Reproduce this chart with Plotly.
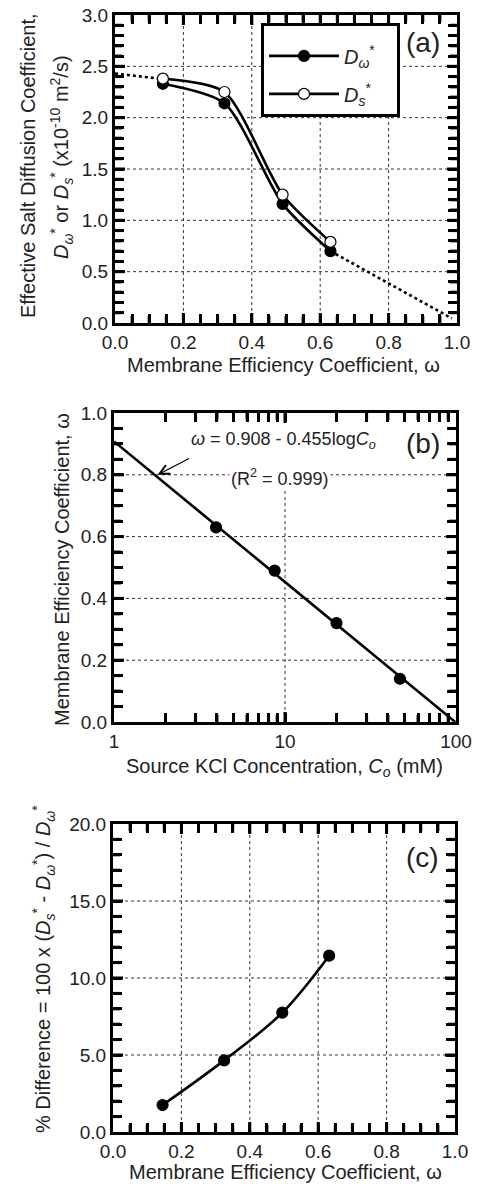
import plotly.graph_objects as go

W, H = 478, 1184
FONT = "Liberation Sans, Arial, Helvetica, sans-serif"

# ---------- data ----------
# panel (a)
omega_pts = [0.14, 0.32, 0.49, 0.63]
D_omega = [2.33, 2.14, 1.16, 0.70]
D_s = [2.38, 2.25, 1.25, 0.79]
extrap_left_x = [0.0, 0.13]
extrap_left_y = [2.43, 2.38]
extrap_right_x = [0.63, 0.985]
extrap_right_y = [0.70, 0.045]

# panel (b)
conc_pts = [3.95, 8.7, 20.0, 47.0]
omega_b = [0.63, 0.49, 0.32, 0.14]
fit_x = [1.0, 99.0]
fit_y = [0.908, 0.0]

# panel (c)
omega_c = [0.145, 0.325, 0.495, 0.632]
pct_diff = [1.75, 4.65, 7.75, 11.45]

# ticks / grid
omega_major = [0.0, 0.2, 0.4, 0.6, 0.8, 1.0]
Da_major = [0.0, 0.5, 1.0, 1.5, 2.0, 2.5, 3.0]
wb_major = [0.0, 0.2, 0.4, 0.6, 0.8, 1.0]
pc_major = [0.0, 5.0, 10.0, 15.0, 20.0]
conc_major = [1, 10, 100]
conc_minor = [2, 3, 4, 5, 6, 7, 8, 9, 20, 30, 40, 50, 60, 70, 80, 90]


def lin_ticks(major, n_sub, fmt="{:.1f}"):
    vals, text = [], []
    for i, v in enumerate(major):
        vals.append(v)
        text.append(fmt.format(v))
        if i < len(major) - 1:
            step = (major[i + 1] - v) / n_sub
            for k in range(1, n_sub):
                vals.append(v + k * step)
                text.append("")
    return vals, text


def px_x(p):
    return p / W


def px_y(p):
    return 1 - p / H


fig = go.Figure()

line_w = 2.6
mk = dict(size=11, color="black", line=dict(color="black", width=1.2))
mk_open = dict(size=11, color="white", line=dict(color="black", width=1.2))

# panel a
fig.add_trace(go.Scatter(x=extrap_left_x, y=extrap_left_y, mode="lines",
                         line=dict(color="black", width=2.6, dash="dot"),
                         showlegend=False, xaxis="x", yaxis="y"))
fig.add_trace(go.Scatter(x=extrap_right_x, y=extrap_right_y, mode="lines",
                         line=dict(color="black", width=2.6, dash="dot"),
                         showlegend=False, xaxis="x", yaxis="y"))
fig.add_trace(go.Scatter(x=omega_pts, y=D_omega, mode="lines+markers",
                         line=dict(color="black", width=line_w, shape="spline", smoothing=0.7),
                         marker=mk, name="<i>D</i><sub><i>ω</i></sub><sup>*</sup>&nbsp;&nbsp;&nbsp;",
                         legendgroup="g1", xaxis="x", yaxis="y"))
fig.add_trace(go.Scatter(x=omega_pts, y=D_s, mode="lines+markers",
                         line=dict(color="black", width=line_w, shape="spline", smoothing=0.7),
                         marker=mk_open, name="<i>D</i><sub><i>s</i></sub><sup>*</sup>",
                         legendgroup="g2", xaxis="x", yaxis="y"))

# panel b
fig.add_trace(go.Scatter(x=fit_x, y=fit_y, mode="lines",
                         line=dict(color="black", width=line_w),
                         showlegend=False, xaxis="x2", yaxis="y2"))
fig.add_trace(go.Scatter(x=conc_pts, y=omega_b, mode="markers",
                         marker=mk, showlegend=False, xaxis="x2", yaxis="y2"))

# panel c
fig.add_trace(go.Scatter(x=omega_c, y=pct_diff, mode="lines+markers",
                         line=dict(color="black", width=line_w, shape="spline", smoothing=1.0),
                         marker=mk, showlegend=False, xaxis="x3", yaxis="y3"))

common = dict(showline=True, linewidth=3, linecolor="black", mirror="ticks",
              ticks="inside", ticklen=9, tickwidth=3, tickcolor="black",
              showgrid=False, zeroline=False, automargin=False, tickmode="array",
              tickfont=dict(family=FONT, size=19, color="#222"))

xa_v, xa_t = lin_ticks(omega_major, 4)
ya_v, ya_t = lin_ticks(Da_major, 5)
yb_v, yb_t = lin_ticks(wb_major, 4)
yc_v, yc_t = lin_ticks(pc_major, 5)
xb_v = sorted(conc_major + conc_minor)
xb_t = [str(v) if v in conc_major else "" for v in xb_v]

fig.update_layout(
    xaxis=dict(domain=[px_x(115), px_x(457)], range=[0, 1], anchor="y",
               tickvals=xa_v, ticktext=xa_t, **common),
    yaxis=dict(domain=[px_y(323), px_y(15)], range=[0, 3], anchor="x",
               tickvals=ya_v, ticktext=ya_t, **common),
    xaxis2=dict(domain=[px_x(114), px_x(456)], type="log", range=[0, 2], anchor="y2",
                tickvals=xb_v, ticktext=xb_t, **common),
    yaxis2=dict(domain=[px_y(722), px_y(413)], range=[0, 1], anchor="x2",
                tickvals=yb_v, ticktext=yb_t, **common),
    xaxis3=dict(domain=[px_x(113), px_x(455)], range=[0, 1], anchor="y3",
                tickvals=xa_v, ticktext=xa_t, **common),
    yaxis3=dict(domain=[px_y(1132), px_y(824)], range=[0, 20], anchor="x3",
                tickvals=yc_v, ticktext=yc_t, **common),
    width=W, height=H,
    margin=dict(l=0, r=0, t=0, b=0),
    paper_bgcolor="white", plot_bgcolor="white",
    font=dict(family=FONT, size=19, color="#222"),
    legend=dict(x=px_x(261), y=px_y(23), xanchor="left", yanchor="top",
                bgcolor="white", bordercolor="black", borderwidth=3,
                font=dict(family=FONT, size=20, color="#222"),
                title=dict(text=" ", font=dict(size=8)),
                itemwidth=70, tracegroupgap=9, traceorder="grouped"),
)

# dotted grid lines at the major ticks
grid_line = dict(color="#333", width=1, dash="3px,3px")


def vgrid(xref, yref, vals):
    for v in vals[1:-1]:
        fig.add_shape(type="line", xref=xref, yref=yref + " domain", x0=v, x1=v, y0=0, y1=1,
                      line=grid_line, layer="below")


def hgrid(xref, yref, vals):
    for v in vals[1:-1]:
        fig.add_shape(type="line", xref=xref + " domain", yref=yref, x0=0, x1=1, y0=v, y1=v,
                      line=grid_line, layer="below")


vgrid("x", "y", omega_major)
hgrid("x", "y", Da_major)
vgrid("x2", "y2", conc_major)
hgrid("x2", "y2", wb_major)
vgrid("x3", "y3", omega_major)
hgrid("x3", "y3", pc_major)
# mask the C=10 grid line behind the fit label area (panel b)
fig.add_shape(type="rect", xref="x2", yref="y2", x0=8, x1=12.5, y0=0.755, y1=0.99,
              fillcolor="white", line=dict(width=0), layer="below")

# inside tick marks on all four sides (pixel-length), drawn from the tick arrays
tick_line = dict(color="black", width=3)
MAJ, MIN = 10, 7


def xticks(xref, yref, vals, majors):
    for v in vals[1:-1]:
        L = MAJ if v in majors else MIN
        for anchor, sgn in ((0, 1), (1, -1)):
            fig.add_shape(type="line", xref=xref, yref=yref + " domain", ysizemode="pixel",
                          yanchor=anchor, x0=v, x1=v, y0=0, y1=sgn * L,
                          line=tick_line, layer="above")


def yticks(xref, yref, vals, majors):
    for v in vals[1:-1]:
        L = MAJ if v in majors else MIN
        for anchor, sgn in ((0, 1), (1, -1)):
            fig.add_shape(type="line", xref=xref + " domain", yref=yref, xsizemode="pixel",
                          xanchor=anchor, x0=0, x1=sgn * L, y0=v, y1=v,
                          line=tick_line, layer="above")


def is_major(vals, majors):
    return [v for v in vals if any(abs(v - m) < 1e-9 for m in majors)]


xticks("x", "y", xa_v, is_major(xa_v, omega_major))
yticks("x", "y", ya_v, is_major(ya_v, Da_major))
xticks("x2", "y2", xb_v, conc_major)
yticks("x2", "y2", yb_v, is_major(yb_v, wb_major))
xticks("x3", "y3", xa_v, is_major(xa_v, omega_major))
yticks("x3", "y3", yc_v, is_major(yc_v, pc_major))

ann = []
tf = dict(family=FONT, size=20, color="#222")
C = dict(xref="paper", yref="paper", xanchor="center", yanchor="middle", showarrow=False)
ann.append(dict(x=px_x(28), y=px_y(166), textangle=-90,
                text="Effective Salt Diffusion Coefficient,", font=tf, **C))
ann.append(dict(x=px_x(62), y=px_y(157), textangle=-90,
                text="<i>D</i><sub><i>ω</i></sub><sup>*</sup> or <i>D</i><sub><i>s</i></sub><sup>*</sup> (x10<sup>-10</sup> m<sup>2</sup>/s)",
                font=tf, **C))
ann.append(dict(x=px_x(283), y=px_y(365),
                text="Membrane Efficiency Coefficient, ω", font=tf, **C))
ann.append(dict(x=px_x(62), y=px_y(570), textangle=-90,
                text="Membrane Efficiency Coefficient, ω", font=tf, **C))
ann.append(dict(x=px_x(284), y=px_y(767),
                text="Source KCl Concentration, <i>C</i><sub><i>o</i></sub> (mM)", font=tf, **C))
ann.append(dict(x=px_x(43), y=px_y(969), textangle=-90,
                text="% Difference = 100 x (<i>D</i><sub><i>s</i></sub><sup>*</sup> - <i>D</i><sub><i>ω</i></sub><sup>*</sup>) / <i>D</i><sub><i>ω</i></sub><sup>*</sup>",
                font=tf, **C))
ann.append(dict(x=px_x(285), y=px_y(1172),
                text="Membrane Efficiency Coefficient, ω", font=tf, **C))
lf = dict(family=FONT, size=28, color="#222")
ann.append(dict(x=px_x(423), y=px_y(43), text="(a)", font=lf, **C))
ann.append(dict(x=px_x(423), y=px_y(443), text="(b)", font=lf, **C))
ann.append(dict(x=px_x(422), y=px_y(857), text="(c)", font=lf, **C))
ef = dict(family=FONT, size=18, color="#222")
ann.append(dict(x=px_x(283), y=px_y(440),
                text="<i>ω</i> = 0.908 - 0.455log<i>C</i><sub><i>o</i></sub>",
                font=ef, bgcolor="white", **C))
ann.append(dict(x=px_x(280), y=px_y(477),
                text="(R<sup>2</sup> = 0.999)", font=ef, bgcolor="white", **C))
ann.append(dict(x=0.255, y=0.8, xref="x2", yref="y2", ax=33, ay=-17, text="",
                showarrow=True, arrowhead=5, arrowsize=1.6, arrowwidth=1.2,
                arrowcolor="black"))
fig.update_layout(annotations=ann)

fig.write_html("out.html", config={"displayModeBar": False},
               post_script="document.body.style.margin='0';document.body.style.overflow='hidden';")
